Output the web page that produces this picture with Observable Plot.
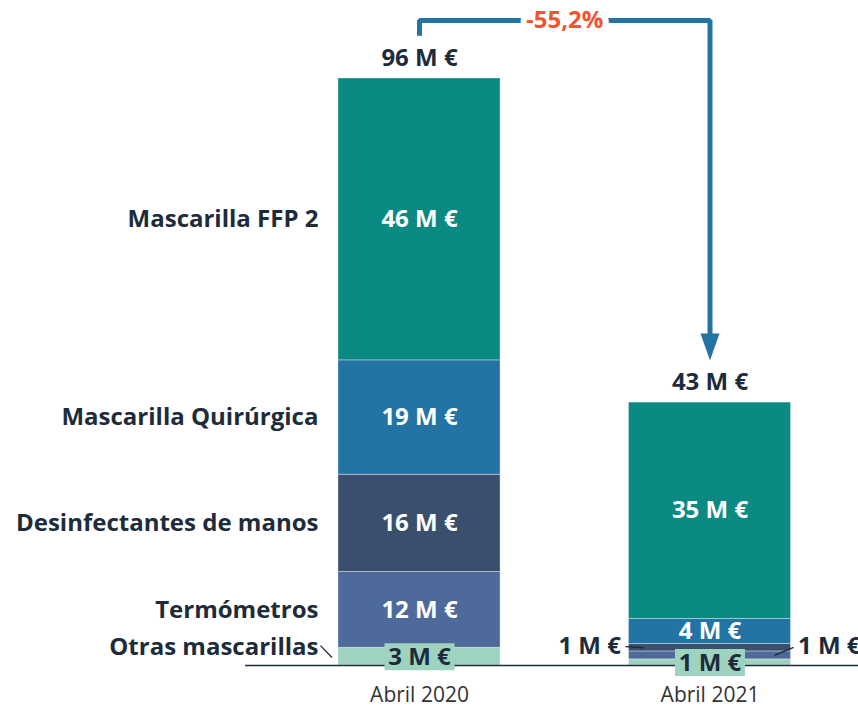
<!DOCTYPE html>
<html>
<head>
<meta charset="utf-8">
<script src="https://cdn.jsdelivr.net/npm/d3@7"></script>
<script src="https://cdn.jsdelivr.net/npm/@observablehq/plot@0.6"></script>
<style>
  html, body { margin: 0; padding: 0; background: #fff; }
  #chart svg { display: block; }
</style>
</head>
<body>
<div id="chart"></div>
<script>
// ---- Data ----
const periods = ["Abril 2020", "Abril 2021"];
const categories = ["Otras mascarillas", "Termómetros", "Desinfectantes de manos", "Mascarilla Quirúrgica", "Mascarilla FFP 2"];
const values2020 = [2.9, 12.4, 15.9, 18.7, 46.1];
const values2021 = [1.0, 1.3, 1.2, 4.1, 35.4];
const colors = ["#9ed3bf", "#4d6a9b", "#3a4f6e", "#2473a5", "#0b8a84"];

// ---- Derived tables ----
const series = [values2020, values2021];
const rows = [];
series.forEach((vals, i) => {
  let acc = 0;
  vals.forEach((v, j) => {
    rows.push({period: i, category: categories[j], value: v, y1: acc, y2: acc + v, mid: acc + v / 2, label: `${Math.round(v)} M €`});
    acc += v;
  });
});
const totals = series.map((vals, i) => ({period: i, total: d3.sum(vals), label: `${Math.round(d3.sum(vals))} M €`}));
const change = (totals[1].total - totals[0].total) / totals[0].total * 100;
const changeLabel = `${change.toFixed(1).replace(".", ",")}%`;

// ---- Style constants ----
const HALF = 0.279;          // half bar width in x units
const PX = 1 / 290.5;        // x units per pixel
const DARK = "#1d2b3a";
const FS = 24;

const isOtras = r => r.category === "Otras mascarillas";
const inside = rows.filter(r => !isOtras(r) && r.value >= 3);
const otras = rows.filter(isOtras);
const leftNames = rows.filter(r => r.period === 0 && !isOtras(r));
const otrasName = rows.filter(r => r.period === 0 && isOtras(r));
const d21 = rows.find(r => r.period === 1 && r.category === "Desinfectantes de manos");
const t21 = rows.find(r => r.period === 1 && r.category === "Termómetros");
const o20 = rows.find(r => r.period === 0 && isOtras(r));

const leaders = [
  {x1: 1 - HALF - 3.5 * PX, y1: d21.mid + 0.2, x2: 1 - HALF + 14.5 * PX, y2: d21.mid},
  {x1: 1 + HALF + 2.5 * PX, y1: t21.mid + 1.3, x2: 1 + HALF - 16.5 * PX, y2: t21.mid},
  {x1: 0 - HALF - 18 * PX, y1: o20.mid + 1.8, x2: 0 - HALF - 6.5 * PX, y2: o20.mid - 0.15}
];

const bracketTop = totals[0].total + 9.5;
const headY = totals[1].total + 9.1;
const bracket = [
  {x: 0, y: totals[0].total + 7},
  {x: 0, y: bracketTop},
  {x: 1, y: bracketTop},
  {x: 1, y: headY}
];

const boxSymbol = {draw(ctx) { ctx.rect(-35, -13.5, 70, 27); }};
const headSymbol = {draw(ctx) { ctx.moveTo(-9.5, -13.5); ctx.lineTo(9.5, -13.5); ctx.lineTo(0, 13.5); ctx.closePath(); }};

const chart = Plot.plot({
  width: 858,
  height: 707,
  marginLeft: 245,
  marginRight: 0,
  marginTop: 0,
  marginBottom: 42,
  style: {fontFamily: "'Open Sans', sans-serif", background: "white", overflow: "visible"},
  x: {domain: [0, 1], range: [419, 709.5]},
  y: {domain: [0, 96], range: [665, 78], axis: null},
  color: {domain: categories, range: colors},
  marks: [
    Plot.rect(rows, {x1: d => d.period - HALF, x2: d => d.period + HALF, y1: "y1", y2: "y2", fill: "category", stroke: "white", strokeOpacity: 0.45, strokeWidth: 0.8}),
    Plot.ruleY([0], {stroke: DARK, strokeWidth: 1.6}),
    Plot.dot(otras, {x: "period", y: "mid", symbol: boxSymbol, fill: colors[0], stroke: "none", r: 1}),
    Plot.text(inside, {x: "period", y: "mid", text: "label", fill: "white", fontSize: FS, fontWeight: 700}),
    Plot.text(otras, {x: "period", y: "mid", text: "label", fill: DARK, fontSize: FS, fontWeight: 700, dy: 1}),
    Plot.text([d21], {x: d => d.period - HALF, y: "mid", text: "label", textAnchor: "end", dx: -8, dy: -1.5, fill: DARK, fontSize: FS, fontWeight: 700}),
    Plot.text([t21], {x: d => d.period + HALF, y: "mid", text: "label", textAnchor: "start", dx: 7, dy: -9, fill: DARK, fontSize: FS, fontWeight: 700}),
    Plot.link(leaders, {x1: "x1", y1: "y1", x2: "x2", y2: "y2", stroke: DARK, strokeWidth: 1.3}),
    Plot.text(leftNames, {x: d => d.period - HALF, y: "mid", text: "category", textAnchor: "end", dx: -20, fill: DARK, fontSize: FS, fontWeight: 700}),
    Plot.text(otrasName, {x: d => d.period - HALF, y: "mid", text: "category", textAnchor: "end", dx: -20, dy: -9, fill: DARK, fontSize: FS, fontWeight: 700}),
    Plot.text(totals, {x: "period", y: "total", text: "label", dy: -20, fill: DARK, fontSize: FS, fontWeight: 700}),
    Plot.line(bracket, {x: "x", y: "y", stroke: "#2473a5", strokeWidth: 5, strokeLinejoin: "miter", strokeLinecap: "butt", curve: "linear"}),
    Plot.dot([bracket[3]], {x: "x", y: "y", symbol: headSymbol, fill: "#2473a5", stroke: "none", r: 1}),
    Plot.text([changeLabel], {x: 0.5, y: bracketTop, text: d => d, fill: "#f4532f", stroke: "white", strokeWidth: 12, fontSize: FS, fontWeight: 700}),
    Plot.axisX([0, 1], {tickFormat: i => periods[i], tickSize: 0, tickPadding: 22, fontSize: 21, color: "#333", label: null})
  ]
});
document.getElementById("chart").appendChild(chart);
</script>
</body>
</html>
